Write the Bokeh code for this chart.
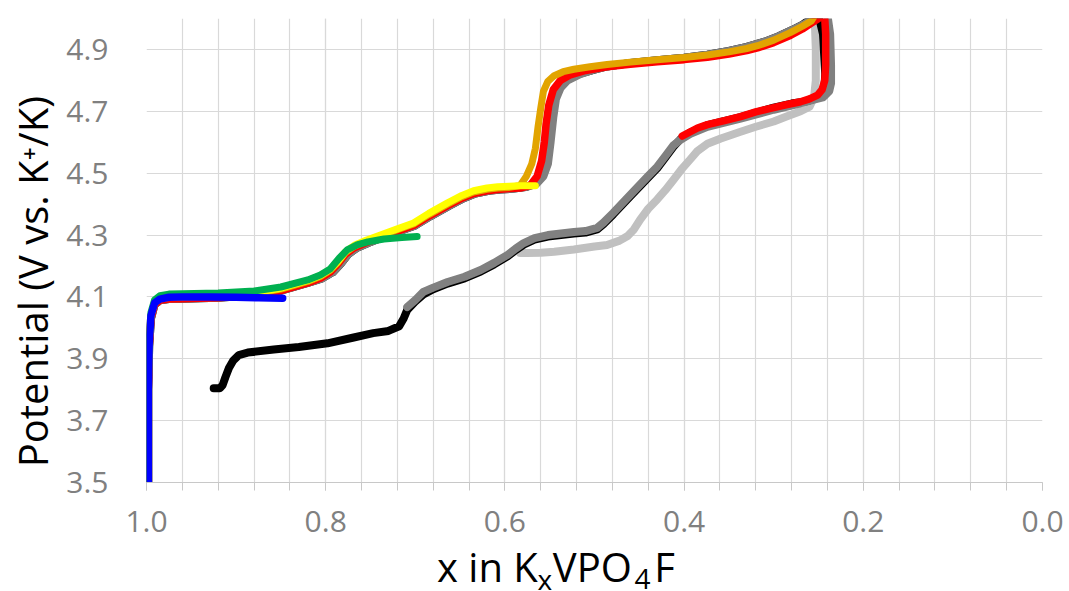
from bokeh.plotting import figure
from bokeh.models import Range1d, FixedTicker, PrintfTickFormatter
from bokeh.layouts import row, column
from bokeh.core.properties import value
from bokeh.embed import file_html
from bokeh.resources import INLINE

# ---------------- data (x in KxVPO4F, potential V vs K+/K) ----------------
blue_x = [0.998, 0.998, 0.997, 0.995, 0.991, 0.985, 0.975, 0.960, 0.930, 0.900, 0.875, 0.848]
blue_v = [3.500, 3.800, 3.950, 4.040, 4.080, 4.093, 4.099, 4.100, 4.100, 4.099, 4.097, 4.096]

green_x = [0.998, 0.998, 0.997, 0.995, 0.991, 0.985, 0.975, 0.960, 0.920, 0.880,
           0.850, 0.820, 0.806, 0.795, 0.785, 0.776, 0.765, 0.753, 0.735, 0.715, 0.698]
green_v = [3.500, 3.800, 3.960, 4.050, 4.090, 4.104, 4.109, 4.110, 4.113, 4.119,
           4.132, 4.155, 4.171, 4.190, 4.225, 4.252, 4.268, 4.278, 4.287, 4.292, 4.295]

yellow_x = [0.998, 0.998, 0.997, 0.995, 0.991, 0.985, 0.975, 0.960, 0.920, 0.880,
            0.850, 0.820, 0.806, 0.795, 0.786, 0.778, 0.768, 0.755, 0.739, 0.720,
            0.702, 0.685, 0.664, 0.648, 0.635, 0.620, 0.608, 0.595, 0.583, 0.566]
yellow_v = [3.500, 3.800, 3.950, 4.040, 4.082, 4.095, 4.100, 4.101, 4.104, 4.113,
            4.128, 4.153, 4.169, 4.189, 4.216, 4.246, 4.267, 4.283, 4.300, 4.320,
            4.339, 4.370, 4.404, 4.428, 4.443, 4.452, 4.456, 4.458, 4.459, 4.459]

orange_x = [0.998, 0.998, 0.997, 0.995, 0.991, 0.985, 0.975, 0.960, 0.920, 0.880,
            0.850, 0.820, 0.806, 0.795, 0.786, 0.778, 0.768, 0.755, 0.739, 0.720,
            0.702, 0.685, 0.664, 0.648, 0.635, 0.620, 0.608, 0.595, 0.583, 0.576,
            0.570, 0.566, 0.563, 0.560, 0.557, 0.552, 0.545, 0.535, 0.523, 0.505,
            0.486, 0.460, 0.430, 0.400, 0.374, 0.350, 0.330, 0.318, 0.300, 0.281,
            0.268, 0.258, 0.252]
orange_v = [3.500, 3.800, 3.950, 4.040, 4.080, 4.093, 4.098, 4.099, 4.102, 4.110,
            4.125, 4.150, 4.166, 4.186, 4.213, 4.243, 4.264, 4.280, 4.297, 4.317,
            4.336, 4.366, 4.400, 4.424, 4.439, 4.448, 4.452, 4.454, 4.460, 4.490,
            4.530, 4.580, 4.650, 4.710, 4.765, 4.797, 4.815, 4.828, 4.836, 4.844,
            4.851, 4.859, 4.867, 4.874, 4.882, 4.892, 4.903, 4.912, 4.930, 4.955,
            4.975, 4.992, 5.020]

red_x = [0.998, 0.998, 0.997, 0.995, 0.991, 0.985, 0.975, 0.960, 0.920, 0.880,
         0.850, 0.820, 0.806, 0.795, 0.786, 0.778, 0.768, 0.755, 0.739, 0.720,
         0.702, 0.685, 0.664, 0.648, 0.635, 0.620, 0.608, 0.595, 0.583, 0.572,
         0.564, 0.559, 0.556, 0.554, 0.551, 0.546, 0.538, 0.527, 0.510, 0.486,
         0.460, 0.430, 0.400, 0.374, 0.350, 0.330, 0.318, 0.300, 0.281, 0.268,
         0.258, 0.250, 0.246, 0.243, 0.242, 0.242, 0.243, 0.246, 0.251, 0.260,
         0.270, 0.285, 0.300, 0.320, 0.337, 0.355, 0.374, 0.385, 0.393, 0.402]
red_v = [3.500, 3.800, 3.940, 4.030, 4.075, 4.089, 4.093, 4.094, 4.097, 4.105,
         4.120, 4.145, 4.160, 4.180, 4.208, 4.238, 4.259, 4.275, 4.292, 4.312,
         4.331, 4.361, 4.395, 4.419, 4.434, 4.443, 4.447, 4.450, 4.452, 4.460,
         4.490, 4.540, 4.600, 4.660, 4.720, 4.770, 4.800, 4.818, 4.832, 4.844,
         4.852, 4.860, 4.867, 4.875, 4.885, 4.896, 4.905, 4.922, 4.946, 4.966,
         4.985, 5.000, 5.010, 5.000, 4.950, 4.850, 4.800, 4.770, 4.752, 4.740,
         4.731, 4.722, 4.712, 4.698, 4.683, 4.670, 4.657, 4.646, 4.634, 4.620]

gray_x = [0.998, 0.998, 0.997, 0.995, 0.991, 0.985, 0.975, 0.960, 0.920, 0.880,
          0.850, 0.820, 0.804, 0.792, 0.783, 0.775, 0.765, 0.752, 0.737, 0.718,
          0.700, 0.683, 0.662, 0.646, 0.633, 0.618, 0.605, 0.590, 0.577, 0.565,
          0.557, 0.552, 0.549, 0.546, 0.543, 0.538, 0.530, 0.516, 0.500, 0.486,
          0.460, 0.430, 0.400, 0.374, 0.350, 0.330, 0.310, 0.295, 0.280, 0.266,
          0.255, 0.246, 0.240, 0.237, 0.236, 0.236, 0.238, 0.245, 0.255, 0.270,
          0.300, 0.337, 0.374, 0.393, 0.404, 0.412, 0.421, 0.430, 0.441, 0.460,
          0.479, 0.490, 0.497, 0.510, 0.523, 0.552, 0.567, 0.579, 0.588, 0.597,
          0.612, 0.627, 0.645, 0.664, 0.680, 0.691, 0.700, 0.709]
gray_v = [3.500, 3.800, 3.940, 4.030, 4.075, 4.089, 4.093, 4.094, 4.097, 4.105,
          4.120, 4.145, 4.160, 4.180, 4.208, 4.238, 4.259, 4.275, 4.292, 4.312,
          4.331, 4.361, 4.395, 4.419, 4.434, 4.443, 4.447, 4.450, 4.455, 4.465,
          4.490, 4.530, 4.600, 4.680, 4.740, 4.775, 4.800, 4.820, 4.835, 4.845,
          4.856, 4.865, 4.873, 4.883, 4.895, 4.908, 4.925, 4.942, 4.962, 4.982,
          5.000, 5.020, 5.010, 4.950, 4.850, 4.790, 4.765, 4.745, 4.738, 4.726,
          4.705, 4.676, 4.650, 4.627, 4.608, 4.590, 4.555, 4.521, 4.488, 4.430,
          4.372, 4.340, 4.323, 4.313, 4.310, 4.300, 4.290, 4.274, 4.256, 4.236,
          4.210, 4.187, 4.165, 4.148, 4.130, 4.116, 4.090, 4.067]

black_x = [0.998, 0.998, 0.997, 0.995, 0.991, 0.985, 0.975, 0.960, 0.920, 0.880,
           0.850, 0.820, 0.804, 0.792, 0.783, 0.775, 0.765, 0.752, 0.737, 0.718,
           0.700, 0.683, 0.662, 0.646, 0.633, 0.618, 0.605, 0.590, 0.577, 0.566,
           0.559, 0.555, 0.552, 0.550, 0.547, 0.541, 0.532, 0.518, 0.500, 0.486,
           0.460, 0.430, 0.400, 0.374, 0.350, 0.330, 0.310, 0.295, 0.280, 0.268,
           0.258, 0.250, 0.245, 0.2425, 0.2435, 0.250, 0.262, 0.280, 0.300, 0.337,
           0.374, 0.393, 0.404, 0.412, 0.421, 0.430, 0.441, 0.460, 0.479, 0.490,
           0.497, 0.510, 0.523, 0.552, 0.567, 0.579, 0.588, 0.597, 0.612, 0.627,
           0.645, 0.664, 0.680, 0.691, 0.700, 0.709, 0.713, 0.718, 0.730, 0.747,
           0.770, 0.798, 0.830, 0.858, 0.887, 0.897, 0.903, 0.908, 0.912, 0.915,
           0.918, 0.925]
black_v = [3.500, 3.800, 3.940, 4.030, 4.075, 4.089, 4.093, 4.094, 4.097, 4.105,
           4.120, 4.145, 4.160, 4.180, 4.208, 4.238, 4.259, 4.275, 4.292, 4.312,
           4.331, 4.361, 4.395, 4.419, 4.434, 4.443, 4.447, 4.450, 4.455, 4.465,
           4.490, 4.540, 4.610, 4.680, 4.740, 4.775, 4.800, 4.820, 4.835, 4.845,
           4.856, 4.865, 4.873, 4.883, 4.895, 4.908, 4.925, 4.942, 4.962, 4.980,
           5.000, 5.010, 4.950, 4.820, 4.770, 4.745, 4.733, 4.725, 4.712, 4.681,
           4.655, 4.632, 4.610, 4.585, 4.550, 4.516, 4.483, 4.425, 4.367, 4.335,
           4.318, 4.308, 4.305, 4.295, 4.285, 4.269, 4.251, 4.231, 4.205, 4.182,
           4.160, 4.143, 4.125, 4.108, 4.085, 4.058, 4.030, 4.005, 3.990, 3.983,
           3.968, 3.950, 3.938, 3.930, 3.920, 3.912, 3.895, 3.870, 3.840, 3.815,
           3.805, 3.805]

lgray_x = [0.256, 0.254, 0.253, 0.253, 0.255, 0.260, 0.270, 0.285, 0.300, 0.320,
           0.337, 0.359, 0.374, 0.385, 0.393, 0.403, 0.412, 0.421, 0.430, 0.440,
           0.449, 0.456, 0.463, 0.472, 0.486, 0.500, 0.523, 0.545, 0.560, 0.575, 0.583]
lgray_v = [5.020, 4.980, 4.900, 4.800, 4.745, 4.715, 4.700, 4.684, 4.667, 4.650,
           4.634, 4.612, 4.595, 4.572, 4.545, 4.512, 4.478, 4.445, 4.415, 4.385,
           4.350, 4.318, 4.297, 4.282, 4.268, 4.263, 4.253, 4.246, 4.243, 4.242, 4.242]

x_tick_values = [1.0, 0.8, 0.6, 0.4, 0.2, 0.0]
y_tick_values = [3.5, 3.7, 3.9, 4.1, 4.3, 4.5, 4.7, 4.9]

y_title = "Potential (V vs. K\u207a/K)"

# series: drawn bottom -> top
series = [
    (lgray_x, lgray_v, "#C0C0C0", 8),
    (black_x, black_v, "#000000", 8),
    (gray_x, gray_v, "#808080", 8),
    (red_x, red_v, "#FF0000", 7.5),
    (orange_x, orange_v, "#E2A400", 7),
    (yellow_x, yellow_v, "#FFFF00", 7),
    (green_x, green_v, "#00B050", 7),
    (blue_x, blue_v, "#0000FF", 7.5),
]

# ---------------- layout geometry (page pixels) ----------------
LEFT_W = 60          # strip holding the y title
TOP_H = 552          # height of the chart row
BOTTOM_H = 38        # strip holding the x title
TOTAL_W = 1067
FRAME_TOP = 18
FRAME_BOTTOM_BORDER = TOP_H - FRAME_TOP - 464

# ---------------- main chart ----------------
p = figure(width=TOTAL_W - LEFT_W, height=TOP_H,
           min_border_left=86, min_border_top=FRAME_TOP, min_border_right=TOTAL_W - LEFT_W - 86 - 896,
           min_border_bottom=FRAME_BOTTOM_BORDER,
           x_range=Range1d(1.0, 0.0), y_range=Range1d(3.5, 5.0),
           output_backend="svg", toolbar_location=None)
p.outline_line_color = None
p.background_fill_color = "white"
p.border_fill_color = "white"

minor = [round(k * 0.04, 2) for k in range(26)]
p.xaxis.ticker = FixedTicker(ticks=x_tick_values, minor_ticks=minor)
p.yaxis.ticker = FixedTicker(ticks=y_tick_values, minor_ticks=[])
p.xaxis.formatter = PrintfTickFormatter(format="%.1f")
p.yaxis.formatter = PrintfTickFormatter(format="%.1f")

grid_c = "#d9d9d9"
p.xgrid.grid_line_color = grid_c
p.xgrid.minor_grid_line_color = grid_c
p.ygrid.grid_line_color = grid_c
p.xgrid.grid_line_width = 1.2
p.xgrid.minor_grid_line_width = 1.2
p.ygrid.grid_line_width = 1.2

lab_c = "#808080"
for ax in (p.xaxis[0], p.yaxis[0]):
    ax.major_label_text_font = "Open Sans"
    ax.major_label_text_font_size = "30px"
    ax.major_label_text_color = lab_c
    ax.axis_label = None
    ax.axis_label_standoff = 0
    ax.axis_label_text_font_size = "0px"

xa = p.xaxis[0]
xa.axis_line_color = "#c8c8c8"
xa.axis_line_width = 1.2
xa.major_tick_line_color = "#c8c8c8"
xa.minor_tick_line_color = "#c8c8c8"
xa.major_tick_out = 8
xa.major_tick_in = 0
xa.minor_tick_out = 8
xa.minor_tick_in = 0
xa.major_label_standoff = 20

ya = p.yaxis[0]
ya.axis_line_color = None
ya.major_tick_line_color = None
ya.minor_tick_line_color = None
ya.major_tick_out = 0
ya.major_tick_in = 0
ya.major_label_standoff = 38

for xs, vs, col, w in series:
    p.line(xs, vs, line_color=col, line_width=w, line_cap="round", line_join="round")

# ---------------- y title strip: an axis that carries only its label ----------------
# (frame borders equal to the main chart's so the row keeps the chart frame in place;
#  trailing no-break spaces lower the centred title to where the reference shows it)
yt = figure(width=LEFT_W, height=TOP_H, min_border=0,
            min_border_left=LEFT_W - 1, min_border_right=0,
            min_border_top=FRAME_TOP, min_border_bottom=FRAME_BOTTOM_BORDER,
            x_range=Range1d(0, 1), y_range=Range1d(0, 1),
            x_axis_location=None, y_axis_location="left",
            output_backend="svg", toolbar_location=None)
yt.grid.visible = False
yt.outline_line_color = None
yt.background_fill_color = "white"
yt.border_fill_color = "white"
ty = yt.yaxis[0]
ty.ticker = FixedTicker(ticks=[], minor_ticks=[])
ty.major_label_text_font_size = "0px"
ty.major_label_standoff = 0
ty.major_tick_out = 0
ty.major_tick_in = 0
ty.minor_tick_out = 0
ty.minor_tick_in = 0
ty.axis_line_color = None
ty.axis_label = y_title + "\u00a0" * 6
ty.axis_label_standoff = 0
ty.axis_label_text_font = "Open Sans"
ty.axis_label_text_font_size = "40px"
ty.axis_label_text_font_style = "normal"
ty.axis_label_text_color = "#000000"

# ---------------- x title strip (subscripts as smaller, lowered text) ----------------
xt = figure(width=TOTAL_W, height=BOTTOM_H, min_border=0,
            min_border_left=0, min_border_right=0, min_border_top=0, min_border_bottom=0,
            x_range=Range1d(0, TOTAL_W), y_range=Range1d(0, BOTTOM_H),
            x_axis_location=None, y_axis_location=None,
            output_backend="svg", toolbar_location=None)
xt.grid.visible = False
xt.outline_line_color = None
xt.background_fill_color = "white"
xt.border_fill_color = "white"

W = {' ': 0.26, 'P': 0.603, 'O': 0.78, 'K': 0.587, 'V': 0.579, 'x': 0.524, 'F': 0.507,
     'i': 0.253, 'n': 0.613, '4': 0.571}
MID = 0.388   # distance from baseline to the middle of the text box, in em

def tw(s, size):
    return sum(W[c] for c in s) * size

TITLE = 40
x_pieces = [("x in K", TITLE, 0, 0, 0),
            ("x", 28, 7, 0, 1),
            ("VPO", TITLE, 0, 0, 0),
            ("4", 28, 7, 3, 4),
            ("F", TITLE, 0, 0, 0)]
pos_x, base_y = 437, 582         # page px
for txt, size, drop, gap_before, gap_after in x_pieces:
    pos_x += gap_before
    w = tw(txt, size)
    cx = pos_x + w / 2
    cy = base_y + drop - MID * size
    xt.text(x=[cx], y=[TOP_H + BOTTOM_H - cy], text=[txt],
            text_font=value("Open Sans"), text_font_size=value(f"{size}px"),
            text_color="#000000", text_align="center", text_baseline="middle")
    pos_x += w + gap_after

layout = column(row(yt, p, spacing=0), xt, spacing=0)

open("out.html", "w").write(file_html(layout, INLINE))
